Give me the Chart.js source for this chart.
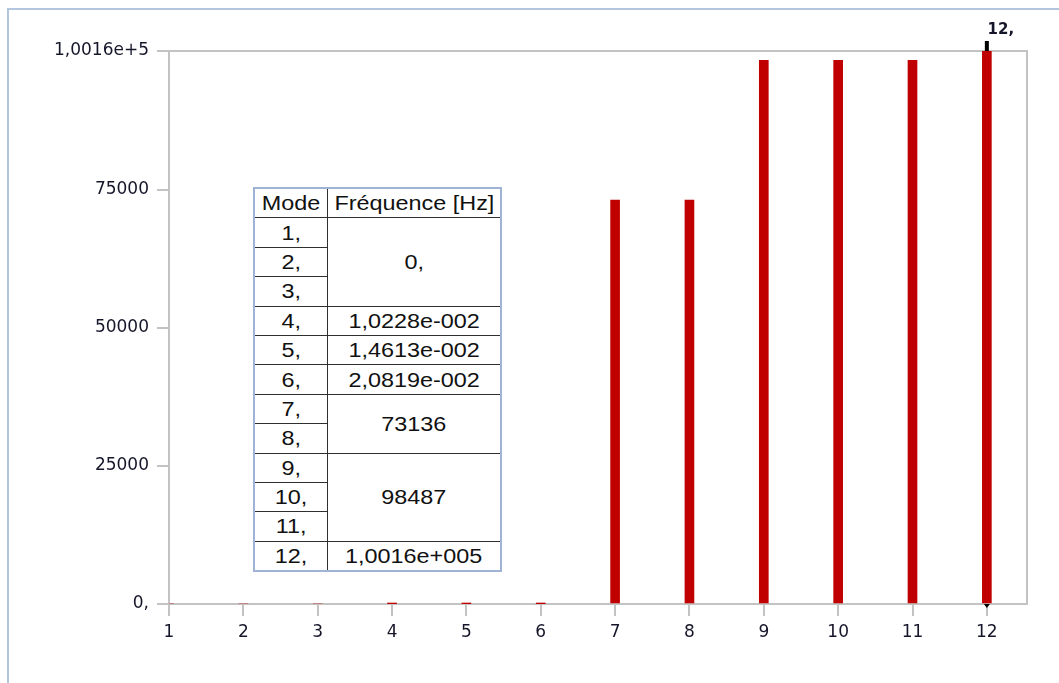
<!DOCTYPE html>
<html>
<head>
<meta charset="utf-8">
<script src="https://cdn.jsdelivr.net/npm/chart.js@4"></script>
<style>
    html, body {
        margin: 0;
        padding: 0;
        background: #ffffff;
    }
    #wrap {
        position: relative;
        width: 1059px;
        height: 683px;
        overflow: hidden;
    }
    #frame {
        position: absolute;
        left: 7px;
        top: 8px;
        width: 1100px;
        height: 700px;
        border-left: 2px solid #b3c5df;
        border-top: 2px solid #b3c5df;
    }
    #chart {
        position: absolute;
        left: 0;
        top: 0;
    }
    #tabla-modes {
        position: absolute;
        left: 253px;
        top: 187px;
        width: 249px;
        border-collapse: collapse;
        table-layout: fixed;
        font-family: "Liberation Sans", Arial, sans-serif;
        font-size: 20px;
        color: #111111;
        background: #ffffff;
        border: 2px solid #9fb4d4;
    }
    #tabla-modes td {
        height: 28.4px;
        padding: 0;
        text-align: center;
        border: 1.5px solid #2f2f2f;
        line-height: 20px;
    }
    #tabla-modes tr:first-child td {
        border-top: 2px solid #9fb4d4;
    }
    #tabla-modes tr:last-child td {
        border-bottom: 2px solid #9fb4d4;
    }
    #tabla-modes td.first {
        border-left: 2px solid #9fb4d4;
    }
    #tabla-modes td.last {
        border-right: 2px solid #9fb4d4;
    }
    #tabla-modes span {
        display: inline-block;
        transform: scaleX(1.17);
    }
</style>
</head>
<body>
<div id="wrap">
    <div id="frame"></div>
    <canvas id="chart" width="1059" height="683"></canvas>
    <table id="tabla-modes"></table>
</div>
<script>
const modes = [1, 2, 3, 4, 5, 6, 7, 8, 9, 10, 11, 12];
const frequencies = [0, 0, 0, 0.010228, 0.014613, 0.020819, 73136, 73136, 98487, 98487, 98487, 100160];
const modeLabels = ['1,', '2,', '3,', '4,', '5,', '6,', '7,', '8,', '9,', '10,', '11,', '12,'];
const freqLabels = ['0,', '0,', '0,', '1,0228e-002', '1,4613e-002', '2,0819e-002', '73136', '73136', '98487', '98487', '98487', '1,0016e+005'];
const tableHeaders = ['Mode', 'Fréquence [Hz]'];
const xTicks = [1, 2, 3, 4, 5, 6, 7, 8, 9, 10, 11, 12];
const yTicks = [0, 25000, 50000, 75000, 100160];
const yTickLabels = ['0,', '25000', '50000', '75000', '1,0016e+5'];
const selectedMode = 12;

const BAR_RED = '#c00000';
const AXIS_GREY = '#c3c3c3';
const LABEL_COLOR = '#16162a';
const TICK_FONT = { family: '"DejaVu Sans"', size: 17 };

function getElement(id) {
    return document.getElementById(id);
}

function buildTable() {
    const tabla = getElement('tabla-modes');
    const head = document.createElement('tr');
    tableHeaders.forEach((h, i) => {
        const cell = document.createElement('td');
        cell.className = i === 0 ? 'first' : 'last';
        cell.innerHTML = `<span>${h}</span>`;
        head.appendChild(cell);
    });
    head.firstChild.style.width = '72px';
    tabla.appendChild(head);

    modeLabels.forEach((m, i) => {
        const fila = document.createElement('tr');
        const modeCell = document.createElement('td');
        modeCell.className = 'first';
        modeCell.innerHTML = `<span>${m}</span>`;
        fila.appendChild(modeCell);

        // merge equal consecutive frequencies into one cell
        if (i === 0 || freqLabels[i] !== freqLabels[i - 1]) {
            let span = 1;
            while (i + span < freqLabels.length && freqLabels[i + span] === freqLabels[i]) {
                span++;
            }
            const freqCell = document.createElement('td');
            freqCell.className = 'last';
            freqCell.rowSpan = span;
            freqCell.innerHTML = `<span>${freqLabels[i]}</span>`;
            fila.appendChild(freqCell);
        }
        tabla.appendChild(fila);
    });
}

const plotFrame = {
    id: 'plotFrame',
    beforeDatasetsDraw(chart) {
        const { ctx, chartArea } = chart;
        ctx.save();
        ctx.strokeStyle = AXIS_GREY;
        ctx.lineWidth = 2;
        ctx.beginPath();
        ctx.moveTo(chartArea.left, chartArea.top);
        ctx.lineTo(chartArea.right, chartArea.top);
        ctx.lineTo(chartArea.right, chartArea.bottom);
        ctx.stroke();
        ctx.restore();
    },
    afterDatasetsDraw(chart) {
        const { ctx } = chart;
        const idx = modes.indexOf(selectedMode);
        const bar = chart.getDatasetMeta(0).data[idx];
        if (!bar) {
            return;
        }
        ctx.save();
        ctx.fillStyle = '#000000';
        ctx.fillRect(bar.x - 2, bar.y - 10, 4, 10);
        ctx.beginPath();
        ctx.moveTo(bar.x - 3, chart.chartArea.bottom);
        ctx.lineTo(bar.x + 3, chart.chartArea.bottom);
        ctx.lineTo(bar.x, chart.chartArea.bottom + 4);
        ctx.fill();
        ctx.font = 'bold 15px "DejaVu Sans"';
        ctx.fillStyle = LABEL_COLOR;
        ctx.textAlign = 'center';
        ctx.textBaseline = 'alphabetic';
        ctx.fillText(modeLabels[idx], bar.x + 14, bar.y - 17);
        ctx.restore();
    },
};

function createChart() {
    const canvas = getElement('chart');
    return new Chart(canvas, {
        type: 'bar',
        data: {
            datasets: [
                {
                    data: modes.map((m, i) => ({ x: m, y: frequencies[i] })),
                    backgroundColor: BAR_RED,
                    borderWidth: 0,
                    barThickness: 9,
                },
            ],
        },
        options: {
            responsive: false,
            animation: false,
            layout: {
                padding: { left: 0, right: 32, top: 51, bottom: 0 },
            },
            plugins: {
                legend: { display: false },
                tooltip: { enabled: false },
            },
            scales: {
                x: {
                    type: 'linear',
                    offset: false,
                    min: 1,
                    max: 12.54,
                    afterBuildTicks: (scale) => {
                        scale.ticks = xTicks.map(v => ({ value: v }));
                    },
                    afterFit: (scale) => {
                        scale.height = 79;
                    },
                    grid: {
                        offset: false,
                        drawOnChartArea: false,
                        drawTicks: true,
                        tickLength: 12,
                        color: AXIS_GREY,
                        lineWidth: 2,
                    },
                    border: { color: AXIS_GREY, width: 2 },
                    ticks: {
                        padding: 6,
                        color: LABEL_COLOR,
                        font: TICK_FONT,
                        autoSkip: false,
                        maxRotation: 0,
                        callback: (v) => String(v),
                    },
                },
                y: {
                    min: 0,
                    max: 100160,
                    afterBuildTicks: (scale) => {
                        scale.ticks = yTicks.map(v => ({ value: v }));
                    },
                    afterFit: (scale) => {
                        scale.width = 169;
                    },
                    grid: {
                        drawOnChartArea: false,
                        drawTicks: true,
                        tickLength: 12,
                        color: AXIS_GREY,
                        lineWidth: 2,
                    },
                    border: { color: AXIS_GREY, width: 2 },
                    ticks: {
                        padding: 8,
                        color: LABEL_COLOR,
                        font: TICK_FONT,
                        callback: (v) => {
                            const i = yTicks.indexOf(v);
                            return i >= 0 ? yTickLabels[i] : '';
                        },
                    },
                },
            },
        },
        plugins: [plotFrame],
    });
}

buildTable();
createChart();
</script>
</body>
</html>
